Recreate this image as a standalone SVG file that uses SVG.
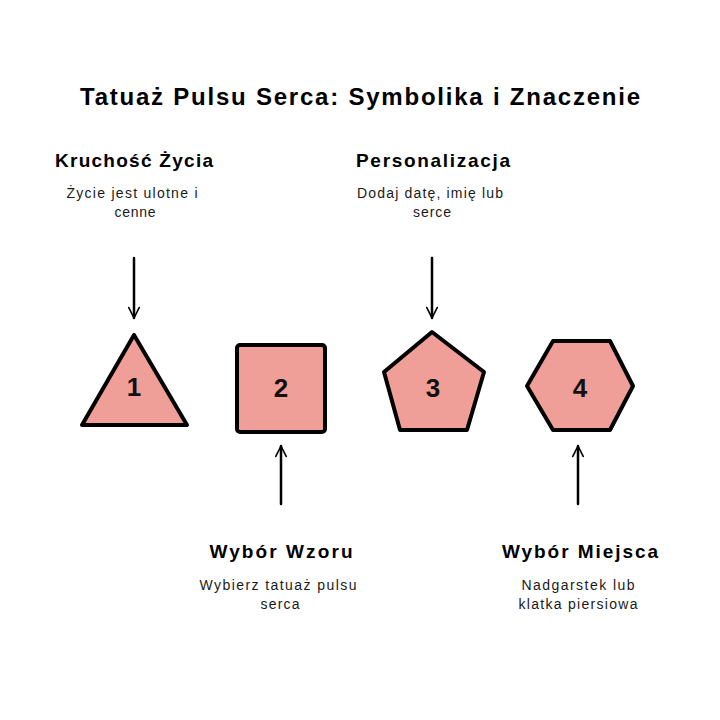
<svg xmlns="http://www.w3.org/2000/svg" width="720" height="720" viewBox="0 0 720 720">
<defs>
<style>
.title{font-family:"Liberation Sans",sans-serif;font-weight:bold;font-size:24px;fill:#000;text-anchor:middle}
.head{font-family:"Liberation Sans",sans-serif;font-weight:bold;font-size:19px;fill:#000;text-anchor:middle}
.sub{font-family:"Liberation Sans",sans-serif;font-size:14px;fill:#1a1a1a;text-anchor:middle}
.num{font-family:"Liberation Sans",sans-serif;font-weight:bold;font-size:26px;fill:#111;text-anchor:middle}
.shape{fill:#ef9f97;stroke:#000;stroke-width:4;stroke-linejoin:round}
.conn{stroke:#000;stroke-width:2.5;fill:none;stroke-linecap:round}
</style>
<marker id="ah" viewBox="0 0 20 20" refX="18" refY="10" markerWidth="13" markerHeight="13" orient="auto" markerUnits="userSpaceOnUse">
<path d="M2,2 L18,10 L2,18" fill="none" stroke="#000" stroke-width="2.5" stroke-linecap="round" stroke-linejoin="round"/>
</marker>
</defs>
<rect width="720" height="720" fill="#fff"/>
<text class="title" x="360" y="105" textLength="560" lengthAdjust="spacing">Tatuaż Pulsu Serca: Symbolika i Znaczenie</text>

<g id="connectors">
<line class="conn" x1="134" y1="258" x2="134" y2="318" marker-end="url(#ah)"/>
<line class="conn" x1="432" y1="258" x2="432" y2="318" marker-end="url(#ah)"/>
<line class="conn" x1="281" y1="504" x2="281" y2="446" marker-end="url(#ah)"/>
<line class="conn" x1="578" y1="504" x2="578" y2="446" marker-end="url(#ah)"/>
</g>

<g id="node1">
<polygon class="shape" points="134,335 187,425 82,425"/>
<text class="num" x="134" y="396">1</text>
</g>
<g id="node2">
<rect class="shape" x="237" y="345" width="88" height="87" rx="3"/>
<text class="num" x="281" y="397">2</text>
</g>
<g id="node3">
<polygon class="shape" points="432,332 484,372 467,430 400,430 384,372"/>
<text class="num" x="433" y="397">3</text>
</g>
<g id="node4">
<polygon class="shape" points="553,341 610,341 633,386 610,430 553,430 527,386"/>
<text class="num" x="580" y="397">4</text>
</g>

<g id="label1">
<text class="head" x="134" y="167" textLength="158" lengthAdjust="spacing">Kruchość Życia</text>
<text class="sub" x="132" y="198" textLength="131" lengthAdjust="spacing">Życie jest ulotne i</text>
<text class="sub" x="135" y="217" textLength="41" lengthAdjust="spacing">cenne</text>
</g>
<g id="label3">
<text class="head" x="433" y="167" textLength="154" lengthAdjust="spacing">Personalizacja</text>
<text class="sub" x="430" y="198" textLength="146" lengthAdjust="spacing">Dodaj datę, imię lub</text>
<text class="sub" x="432" y="217" textLength="38" lengthAdjust="spacing">serce</text>
</g>
<g id="label2">
<text class="head" x="281" y="558" textLength="143" lengthAdjust="spacing">Wybór Wzoru</text>
<text class="sub" x="278" y="590" textLength="157" lengthAdjust="spacing">Wybierz tatuaż pulsu</text>
<text class="sub" x="280" y="609" textLength="39" lengthAdjust="spacing">serca</text>
</g>
<g id="label4">
<text class="head" x="580" y="558" textLength="156" lengthAdjust="spacing">Wybór Miejsca</text>
<text class="sub" x="578" y="590" textLength="113" lengthAdjust="spacing">Nadgarstek lub</text>
<text class="sub" x="578" y="609" textLength="119" lengthAdjust="spacing">klatka piersiowa</text>
</g>
</svg>
